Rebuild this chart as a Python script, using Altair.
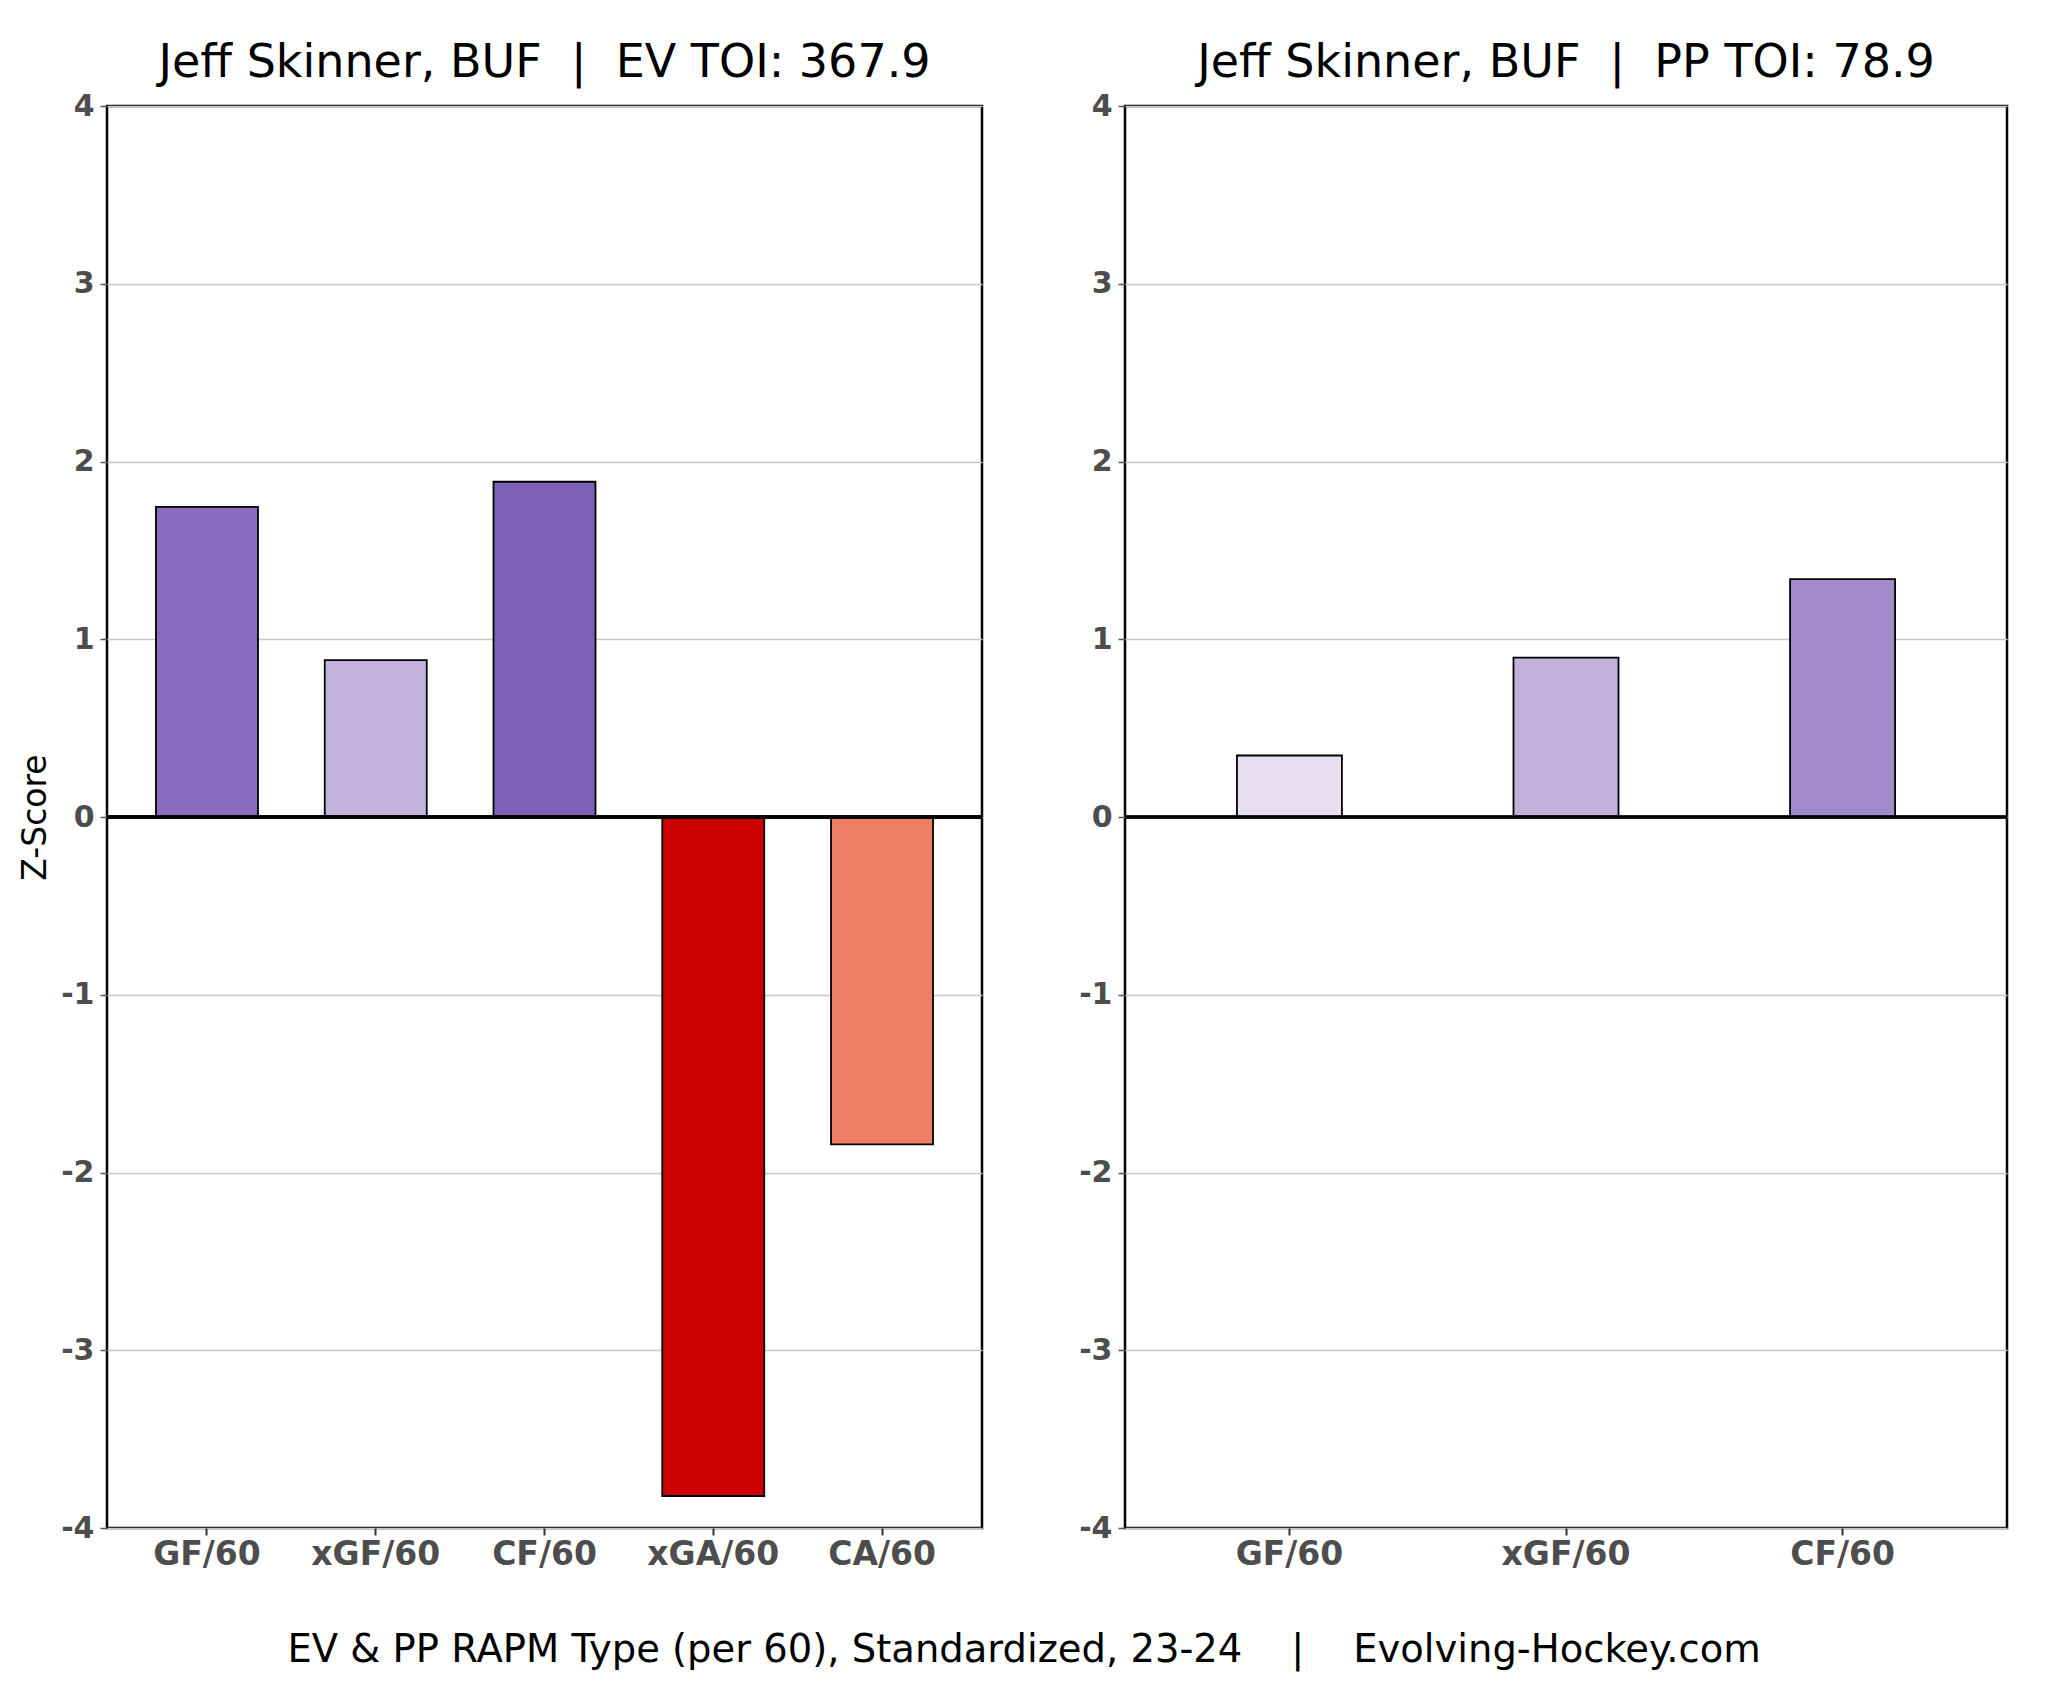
import altair as alt
import pandas as pd

# ---- data ----
ev_cats = ["GF/60", "xGF/60", "CF/60", "xGA/60", "CA/60"]
ev_vals = [1.745, 0.883, 1.886, -3.82, -1.842]
ev_colors = ["#8a6bbd", "#c3b3dd", "#7e60b8", "#cc0000", "#ee7e65"]

pp_cats = ["GF/60", "xGF/60", "CF/60"]
pp_vals = [0.346, 0.897, 1.338]
pp_colors = ["#e6dff1", "#c1b1dc", "#a38bcb"]

NB = "\u00a0"
ev_title = "Jeff Skinner, BUF" + NB * 2 + "|" + NB * 2 + "EV TOI: 367.9"
pp_title = "Jeff Skinner, BUF" + NB * 2 + "|" + NB * 2 + "PP TOI: 78.9"
caption = ("EV & PP RAPM Type (per 60), Standardized, 23-24" + NB * 4 + "|"
           + NB * 4 + "Evolving-Hockey.com")
y_ticks = [-4, -3, -2, -1, 0, 1, 2, 3, 4]

FONT = "DejaVu Sans"
H = 1422


def panel(cats, vals, colors, title, width, pad_inner, pad_outer, bar_size, show_ytitle):
    df = pd.DataFrame({"cat": cats, "val": vals, "fill": colors})
    x = alt.X(
        "cat:N",
        sort=cats,
        scale=alt.Scale(paddingInner=pad_inner, paddingOuter=pad_outer),
        axis=alt.Axis(
            title=None, labelAngle=0, labelFontSize=33, labelFontWeight="bold",
            labelColor="#4d4d4d", labelFont=FONT, tickSize=7, tickWidth=2,
            tickColor="#333333", domain=False, labelPadding=3,
        ),
    )
    y = alt.Y(
        "val:Q",
        scale=alt.Scale(domain=[-4, 4], nice=False),
        axis=alt.Axis(
            title="Z-Score" if show_ytitle else None,
            values=y_ticks, labelExpr="datum.value + ''",
            labelFontSize=30, labelFontWeight="bold", labelColor="#4d4d4d",
            labelFont=FONT, tickSize=7, tickWidth=1.5, tickColor="#555555",
            labelPadding=6, domain=False, grid=True, gridColor="#c8c8c8",
            gridWidth=1.5, titleFont=FONT, titleFontSize=33,
            titleFontWeight="normal", titleColor="#000000", titlePadding=8,
        ),
    )
    bars = alt.Chart(df).mark_bar(
        stroke="#000000", strokeWidth=1.8, size=bar_size
    ).encode(
        x=x,
        y=y,
        color=alt.Color("fill:N", scale=None, legend=None),
    )
    zero = alt.Chart(df).mark_rule(color="#000000", strokeWidth=3).encode(y=alt.datum(0))
    return alt.layer(bars, zero).properties(
        width=width,
        height=H,
        title=alt.TitleParams(
            title, font=FONT, fontSize=46, fontWeight="normal", color="#000000",
            anchor="middle", offset=4,
        ),
    )


left = panel(ev_cats, ev_vals, ev_colors, ev_title, 875, 0.4, 0.2924, 102, True)
right = panel(pp_cats, pp_vals, pp_colors, pp_title, 882, 0.62, 0.4045, 105, False)

chart = alt.hconcat(left, right, spacing=92).properties(
    title=alt.TitleParams(
        caption, orient="bottom", anchor="middle", font=FONT, fontSize=38.5,
        fontWeight="normal", color="#000000", offset=60, dx=10,
    ),
    padding={"left": 10, "top": 30, "right": 10, "bottom": 10},
    background="#ffffff",
).configure_view(
    stroke="#000000", strokeWidth=2.5
)

chart.save("out.html", embed_options={"renderer": "svg", "actions": False})
